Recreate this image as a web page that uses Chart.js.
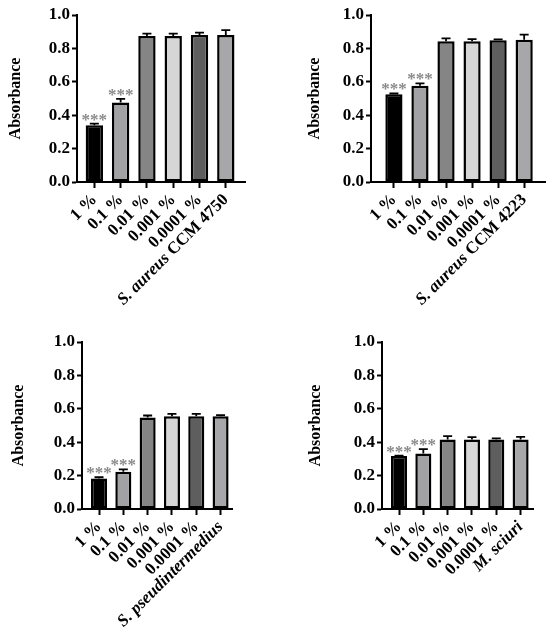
<!DOCTYPE html>
<html><head><meta charset="utf-8">
<script src="https://cdn.jsdelivr.net/npm/chart.js@4.4.1/dist/chart.umd.min.js"></script>
<style>
html,body{margin:0;padding:0;background:#fff;}
#wrap{position:relative;width:550px;height:634px;overflow:hidden;}
.p{position:absolute;width:275px;height:317px;}
</style></head><body>
<div id="wrap">
<div class="p" style="left:0;top:0"><canvas id="c1" width="275" height="317"></canvas></div>
<div class="p" style="left:275px;top:0"><canvas id="c2" width="275" height="317"></canvas></div>
<div class="p" style="left:0;top:317px"><canvas id="c3" width="275" height="317"></canvas></div>
<div class="p" style="left:275px;top:317px"><canvas id="c4" width="275" height="317"></canvas></div>
</div>
<script>
// ---- data ----
const concentrations = ['1 %', '0.1 %', '0.01 %', '0.001 %', '0.0001 %'];
const yTicks = [0, 0.2, 0.4, 0.6, 0.8, 1.0];
const significance = ['***', '***', '', '', '', ''];

const strainAureus4750 = {italic: 'S. aureus', plain: ' CCM 4750'};
const aureus4750Values = [0.34, 0.476, 0.875, 0.875, 0.88, 0.88];
const aureus4750Errors = [0.01, 0.022, 0.014, 0.013, 0.015, 0.03];

const strainAureus4223 = {italic: 'S. aureus', plain: ' CCM 4223'};
const aureus4223Values = [0.526, 0.576, 0.843, 0.843, 0.849, 0.852];
const aureus4223Errors = [0.004, 0.014, 0.017, 0.012, 0.005, 0.03];

const strainPseud = {italic: 'S. pseudintermedius', plain: ''};
const pseudValues = [0.183, 0.223, 0.548, 0.556, 0.556, 0.556];
const pseudErrors = [0.007, 0.014, 0.012, 0.014, 0.014, 0.006];

const strainSciuri = {italic: 'M. sciuri', plain: ''};
const sciuriValues = [0.317, 0.333, 0.416, 0.416, 0.416, 0.416];
const sciuriErrors = [0.003, 0.026, 0.02, 0.014, 0.007, 0.016];

// ---- styles ----
const barColors = ['#000000', '#a2a2a4', '#858585', '#d6d6d6', '#5e5e5e', '#a7a7a9'];
const FAMILY = '"Liberation Serif", "Times New Roman", serif';
const FS = 17;

const errorBars = {
  id: 'errorBars',
  afterDatasetsDraw(chart) {
    const ds = chart.data.datasets[0];
    const meta = chart.getDatasetMeta(0);
    const y = chart.scales.y;
    const ctx = chart.ctx;
    ctx.save();
    ctx.strokeStyle = '#000';
    ctx.lineWidth = 1.8;
    meta.data.forEach((bar, i) => {
      const v = ds.data[i].y;
      const top = y.getPixelForValue(v + ds.errors[i]);
      const base = y.getPixelForValue(v);
      ctx.beginPath();
      ctx.moveTo(bar.x, base);
      ctx.lineTo(bar.x, top);
      ctx.moveTo(bar.x - 4.5, top);
      ctx.lineTo(bar.x + 4.5, top);
      ctx.stroke();
      if (ds.sig[i]) {
        ctx.fillStyle = '#8a8a8a';
        ctx.font = 'bold 17px ' + FAMILY;
        ctx.textAlign = 'center';
        ctx.textBaseline = 'alphabetic';
        ctx.fillText(ds.sig[i], bar.x, top + 1);
      }
    });
    ctx.restore();
  }
};

const speciesLabel = {
  id: 'speciesLabel',
  afterDraw(chart, args, opts) {
    const sc = chart.scales.x;
    const ctx = chart.ctx;
    let tx, ty, rot, base = 'middle', off = 0;
    const items = sc.getLabelItems ? sc.getLabelItems() : null;
    const it = items && items[5];
    if (it) {
      tx = it.options.translation[0]; ty = it.options.translation[1];
      rot = it.options.rotation; base = it.options.textBaseline || 'middle'; off = it.textOffset || 0;
    } else {
      tx = sc.getPixelForValue(5); ty = sc.top + 8; rot = -Math.PI / 4;
    }
    ctx.save();
    ctx.translate(tx, ty);
    ctx.rotate(rot);
    ctx.textAlign = 'right';
    ctx.textBaseline = base;
    ctx.fillStyle = '#000';
    let x = 0;
    if (opts.plain) {
      ctx.font = 'bold ' + FS + 'px ' + FAMILY;
      ctx.fillText(opts.plain, 0, off);
      x -= ctx.measureText(opts.plain).width;
    }
    ctx.font = 'italic bold ' + FS + 'px ' + FAMILY;
    ctx.fillText(opts.italic, x, off);
    ctx.restore();
  }
};

function makePanel(id, values, errors, strain, g) {
  const font = {family: FAMILY, size: FS, weight: 'bold'};
  new Chart(document.getElementById(id), {
    type: 'bar',
    data: {
      datasets: [{
        data: values.map((v, i) => ({x: i, y: v})),
        errors: errors,
        sig: significance,
        backgroundColor: barColors,
        borderColor: '#000',
        borderWidth: 2.5,
        borderSkipped: false,
        barPercentage: 0.66,
        categoryPercentage: 1
      }]
    },
    options: {
      responsive: false,
      animation: false,
      layout: {padding: {left: g.padL, top: g.top1, right: 275 - g.right, bottom: 0}},
      plugins: {legend: {display: false}, tooltip: {enabled: false}, speciesLabel: strain},
      scales: {
        x: {
          type: 'linear', min: g.xmin, max: g.xmax, offset: false,
          afterBuildTicks: s => { s.ticks = values.map((v, i) => ({value: i})); },
          afterFit: s => { s.height = 317 - g.y0; },
          grid: {display: true, drawOnChartArea: false, drawTicks: true, tickLength: 6, tickWidth: 2, color: '#000', offset: false},
          border: {display: true, color: '#000', width: 2},
          ticks: {
            autoSkip: false, minRotation: 45, maxRotation: 45, padding: 2, color: '#000', font: font,
            callback: (v, i) => (i < concentrations.length ? concentrations[i] : '')
          }
        },
        y: {
          min: 0, max: 1,
          afterBuildTicks: s => { s.ticks = yTicks.map(v => ({value: v})); },
          afterFit: s => { s.width = g.axisX - g.padL; },
          grid: {display: true, drawOnChartArea: false, drawTicks: true, tickLength: 5, tickWidth: 2, color: '#000'},
          border: {display: true, color: '#000', width: 2},
          ticks: {padding: 2, color: '#000', font: font, callback: v => Number(v).toFixed(1)},
          title: {display: true, text: 'Absorbance', color: '#000', font: {family: FAMILY, size: 16, weight: 'bold'}, padding: {top: 4, bottom: 4}}
        }
      }
    },
    plugins: [errorBars, speciesLabel]
  });
}

makePanel('c1', aureus4750Values, aureus4750Errors, strainAureus4750,
  {padL: 2, axisX: 77, top1: 15, y0: 182, right: 245, xmin: -0.66, xmax: 5.73});
makePanel('c2', aureus4223Values, aureus4223Errors, strainAureus4223,
  {padL: 26, axisX: 96, top1: 15, y0: 182, right: 270, xmin: -0.88, xmax: 5.8});
makePanel('c3', pseudValues, pseudErrors, strainPseud,
  {padL: 5, axisX: 82, top1: 25, y0: 192, right: 232, xmin: -0.7, xmax: 5.47});
makePanel('c4', sciuriValues, sciuriErrors, strainSciuri,
  {padL: 27, axisX: 107, top1: 25, y0: 192, right: 258, xmin: -0.7, xmax: 5.51});
</script>
</body></html>
